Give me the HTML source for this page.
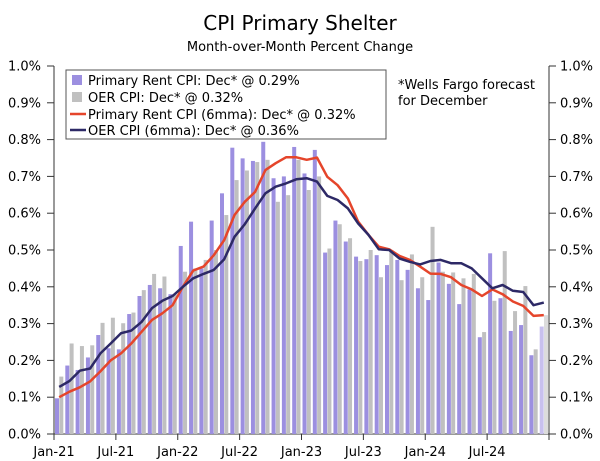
<!DOCTYPE html>
<html><head><meta charset="utf-8"><style>
body{margin:0;background:#fff;}
svg{display:block;font-family:"DejaVu Sans","Liberation Sans",sans-serif;}
</style></head><body>
<svg id="chart" width="600" height="461" viewBox="0 0 600 461">
<text x="300" y="30" text-anchor="middle" font-size="20" fill="#000">CPI Primary Shelter</text>
<text x="300" y="51" text-anchor="middle" font-size="13" fill="#000">Month-over-Month Percent Change</text>
<g id="axes"></g>
<g id="bars"></g>
<g id="lines"></g>
<g>
<rect x="66" y="70" width="320" height="69" fill="#fff" stroke="#555" stroke-width="1"/>
<rect x="72" y="75" width="10" height="10" fill="#9c8fe0"/>
<text x="88" y="85" font-size="13">Primary Rent CPI: Dec* @ 0.29%</text>
<rect x="72" y="92" width="10" height="10" fill="#c0c0c0"/>
<text x="88" y="102" font-size="13">OER CPI: Dec* @ 0.32%</text>
<line x1="70" y1="114" x2="86" y2="114" stroke="#e5452b" stroke-width="2.5"/>
<text x="88" y="119" font-size="13">Primary Rent CPI (6mma): Dec* @ 0.32%</text>
<line x1="70" y1="130" x2="86" y2="130" stroke="#2d2966" stroke-width="2.5"/>
<text x="88" y="135" font-size="13">OER CPI (6mma): Dec* @ 0.36%</text>
</g>
<text x="398" y="89" font-size="13">*Wells Fargo forecast</text>
<text x="398" y="105" font-size="13">for December</text>
</svg>
<script>
const xLabels = ["Jan-21","Jul-21","Jan-22","Jul-22","Jan-23","Jul-23","Jan-24","Jul-24"];
const yTicks = [0,0.1,0.2,0.3,0.4,0.5,0.6,0.7,0.8,0.9,1.0];
const rentCPI = [0.097,0.186,0.174,0.208,0.269,0.233,0.23,0.326,0.375,0.405,0.396,0.38,0.511,0.577,0.45,0.58,0.654,0.778,0.749,0.742,0.794,0.695,0.70,0.78,0.708,0.772,0.493,0.58,0.523,0.482,0.475,0.486,0.459,0.473,0.446,0.396,0.364,0.466,0.408,0.353,0.393,0.263,0.491,0.369,0.28,0.296,0.214,0.292];
const oerCPI = [0.156,0.246,0.239,0.241,0.302,0.316,0.301,0.33,0.391,0.435,0.428,0.38,0.441,0.45,0.473,0.5,0.595,0.69,0.716,0.739,0.745,0.631,0.649,0.745,0.663,0.70,0.504,0.57,0.532,0.47,0.5,0.426,0.5,0.418,0.488,0.426,0.563,0.441,0.439,0.423,0.435,0.277,0.362,0.497,0.334,0.402,0.23,0.323];
const rent6 = [0.10,0.115,0.127,0.143,0.17,0.2,0.219,0.246,0.278,0.31,0.328,0.35,0.4,0.444,0.455,0.486,0.527,0.595,0.631,0.658,0.717,0.736,0.752,0.752,0.745,0.751,0.699,0.676,0.64,0.577,0.541,0.509,0.502,0.484,0.473,0.455,0.436,0.435,0.426,0.405,0.393,0.375,0.393,0.38,0.36,0.348,0.321,0.323];
const oer6 = [0.128,0.144,0.172,0.178,0.219,0.246,0.274,0.281,0.305,0.342,0.362,0.375,0.4,0.423,0.435,0.446,0.475,0.536,0.57,0.613,0.654,0.672,0.681,0.692,0.695,0.686,0.647,0.636,0.613,0.572,0.541,0.502,0.5,0.477,0.468,0.461,0.47,0.473,0.464,0.464,0.45,0.423,0.396,0.405,0.389,0.386,0.35,0.357];

const NS="http://www.w3.org/2000/svg";
const X0=54, X1=549, Y0=434, Y1=66, N=48;
const slot=(X1-X0)/N;
const xs=i=>X0+slot*i;
const ys=v=>Y0-(v/1.0)*(Y0-Y1);
function mk(tag,attrs,parent){const e=document.createElementNS(NS,tag);for(const k in attrs)e.setAttribute(k,attrs[k]);parent.appendChild(e);return e;}
const axes=document.getElementById('axes'), bars=document.getElementById('bars'), lines=document.getElementById('lines');

let a=mk('line',{x1:X0,y1:Y1,x2:X0,y2:Y0,stroke:'#333','stroke-width':1},axes);


a=mk('line',{x1:X1,y1:Y1,x2:X1,y2:Y0,stroke:'#333','stroke-width':1},axes);


a=mk('line',{x1:X0,y1:Y0,x2:X1,y2:Y0,stroke:'#333','stroke-width':1},axes);


yTicks.forEach(v=>{
  const y=ys(v);
  mk('line',{x1:X0-7,y1:y,x2:X0,y2:y,stroke:'#333'},axes);
  mk('line',{x1:X1,y1:y,x2:X1+7,y2:y,stroke:'#333'},axes);
  let t=mk('text',{x:41,y:y+4.5,'text-anchor':'end','font-size':13},axes);
  t.textContent=v.toFixed(1)+'%';
  
  
  t=mk('text',{x:560,y:y+4.5,'text-anchor':'start','font-size':13},axes);
  t.textContent=v.toFixed(1)+'%';
  
  
});
xLabels.forEach((lab,k)=>{
  const x=xs(k*6);
  mk('line',{x1:x,y1:Y0,x2:x,y2:Y0+6,stroke:'#333'},axes);
  const t=mk('text',{x:x,y:Y0+22,'text-anchor':'middle','font-size':13},axes);
  t.textContent=lab;
  
  
});
mk('line',{x1:X1,y1:Y0,x2:X1,y2:Y0+6,stroke:'#333'},axes);

for(let i=0;i<N;i++){
  const fc=i===N-1;
  let r=mk('rect',{x:xs(i)+1,y:ys(rentCPI[i]),width:4,height:Y0-ys(rentCPI[i]),fill:fc?'#c8c0ee':'#9c8fe0'},bars);
  
  
  r=mk('rect',{x:xs(i)+5.3,y:ys(oerCPI[i]),width:4,height:Y0-ys(oerCPI[i]),fill:fc?'#dcdcdc':'#c0c0c0'},bars);
  
  
}
function line(arr,color,name){
  const d=arr.map((v,i)=>(i?'L':'M')+(xs(i)+slot/2).toFixed(1)+' '+ys(v).toFixed(1)).join(' ');
  const p=mk('path',{d:d,fill:'none',stroke:color,'stroke-width':2.5,'stroke-linejoin':'round'},lines);
  
  
}
line(rent6,'#e5452b','line-rent-6mma');
line(oer6,'#2d2966','line-oer-6mma');
</script>
</body></html>
